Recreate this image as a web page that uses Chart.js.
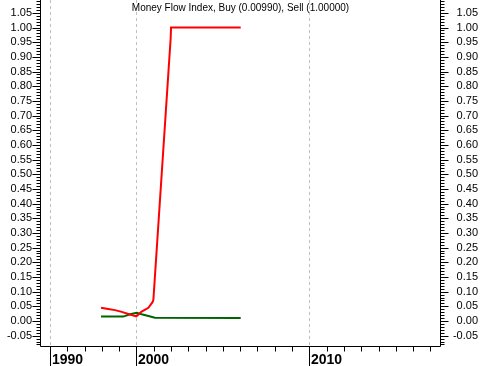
<!DOCTYPE html>
<html>
<head>
<meta charset="utf-8">
<script src="https://cdn.jsdelivr.net/npm/chart.js@4.4.0/dist/chart.umd.min.js"></script>
<style>
  html, body { margin: 0; padding: 0; background: #fff; }
  canvas { display: block; }
</style>
</head>
<body>
<canvas id="mfiChart" width="481" height="366"></canvas>
<script>
// --- Data (x = slot on the time axis, one slot per minor tick) ---
const sellX      = [2.95, 3.37, 3.76, 4.15, 4.53, 4.82, 5.0, 5.30, 5.69, 5.93, 5.98, 6.98, 7.0, 11.03];
const sellValues = [0.045, 0.041, 0.037, 0.031, 0.024, 0.019, 0.016, 0.032, 0.045, 0.064, 0.072, 0.964, 1.0, 1.0];
const buyX       = [2.95, 4.24, 4.63, 5.01, 5.30, 5.69, 6.07, 11.03];
const buyValues  = [0.015, 0.015, 0.023, 0.028, 0.023, 0.017, 0.011, 0.0099];

const yearSlots  = [0, 5, 15];
const yearLabels = ["1990", "2000", "2010"];
const slotCount  = 23;

const titleText  = "Money Flow Index, Buy (0.00990), Sell (1.00000)";

const toPoints = (xs, ys) => xs.map((x, i) => ({ x, y: ys[i] }));

// --- Axes, grid & title drawn on top of the library's scales ---
const axisPlugin = {
  id: "axisPlugin",
  beforeDatasetsDraw(chart) {
    const { ctx, chartArea: a, scales: { x } } = chart;
    ctx.save();
    ctx.strokeStyle = "#c0c0c0";
    ctx.lineWidth = 1;
    ctx.setLineDash([3, 3]);
    yearSlots.forEach(s => {
      const px = Math.round(x.getPixelForValue(s)) + 0.5;
      ctx.beginPath();
      ctx.moveTo(px, a.top);
      ctx.lineTo(px, a.bottom);
      ctx.stroke();
    });
    ctx.restore();
  },
  afterDraw(chart) {
    const { ctx, chartArea: a, scales: { x, y } } = chart;
    ctx.save();
    ctx.strokeStyle = "#000";
    ctx.lineWidth = 1;
    const L = Math.round(a.left) - 0.5;
    const R = Math.round(a.right) + 0.5;
    const B = Math.round(a.bottom) + 0.5;

    ctx.beginPath();
    ctx.moveTo(L, a.top); ctx.lineTo(L, B);
    ctx.moveTo(R, a.top); ctx.lineTo(R, B);
    ctx.moveTo(L, B); ctx.lineTo(R, B);

    // y ticks every 0.01, long every 0.05
    const start = Math.ceil(y.min * 100);
    const end   = Math.floor(y.max * 100);
    for (let k = start; k <= end; k++) {
      const py = Math.round(y.getPixelForValue(k / 100)) + 0.5;
      const len = k % 5 === 0 ? 8 : 4;
      ctx.moveTo(L - len, py); ctx.lineTo(L, py);
      ctx.moveTo(R, py); ctx.lineTo(R + len, py);
    }

    // x ticks, year ticks run to the bottom edge
    for (let s = 0; s < slotCount; s++) {
      const px = Math.round(x.getPixelForValue(s)) + 0.5;
      const len = yearSlots.includes(s) ? chart.height - B : 5;
      ctx.moveTo(px, B); ctx.lineTo(px, B + len);
    }
    ctx.stroke();

    ctx.fillStyle = "#000";
    ctx.font = "bold 14px 'Liberation Sans', Arial, sans-serif";
    ctx.textAlign = "left";
    ctx.textBaseline = "alphabetic";
    yearSlots.forEach((s, i) => {
      ctx.fillText(yearLabels[i], Math.round(x.getPixelForValue(s)) + 2, 364);
    });

    ctx.font = "10px 'Liberation Sans', Arial, sans-serif";
    ctx.textAlign = "center";
    ctx.textBaseline = "middle";
    ctx.fillText(titleText, (a.left + a.right) / 2, 8);
    ctx.restore();
  }
};

const tickFont = { family: "'Liberation Sans', Arial, sans-serif", size: 11 };

const leftTicks = {
  stepSize: 0.05,
  autoSkip: false,
  includeBounds: false,
  padding: 9,
  color: "#000",
  font: tickFont,
  callback: v => v.toFixed(2)
};

const rightTicks = { ...leftTicks, padding: 12, crossAlign: "far" };

const fitY = w => s => { s.width = w; s.paddingTop = 0; s.paddingBottom = 0; };

new Chart(document.getElementById("mfiChart"), {
  type: "line",
  data: {
    datasets: [
      {
        label: "Sell",
        data: toPoints(sellX, sellValues),
        borderColor: "#ff0000",
        borderWidth: 2,
        pointRadius: 0,
        tension: 0
      },
      {
        label: "Buy",
        data: toPoints(buyX, buyValues),
        borderColor: "#006400",
        borderWidth: 2,
        pointRadius: 0,
        tension: 0
      }
    ]
  },
  options: {
    responsive: false,
    devicePixelRatio: 1,
    animation: false,
    layout: { padding: { left: 0, top: 0, bottom: 0, right: 3 } },
    plugins: { legend: { display: false }, tooltip: { enabled: false }, title: { display: false } },
    scales: {
      x: {
        type: "linear",
        min: -0.52,
        max: 22.556,
        ticks: { display: false },
        grid: { display: false },
        border: { display: false },
        afterFit: s => { s.height = 20; s.paddingLeft = 0; s.paddingRight = 0; }
      },
      y: {
        position: "left",
        min: -0.0852,
        max: 1.0937,
        ticks: leftTicks,
        grid: { display: false, drawTicks: false },
        border: { display: false },
        afterFit: fitY(41)
      },
      y2: {
        position: "right",
        min: -0.0852,
        max: 1.0937,
        ticks: rightTicks,
        grid: { display: false, drawTicks: false },
        border: { display: false },
        afterFit: fitY(38)
      }
    }
  },
  plugins: [axisPlugin]
});
</script>
</body>
</html>
